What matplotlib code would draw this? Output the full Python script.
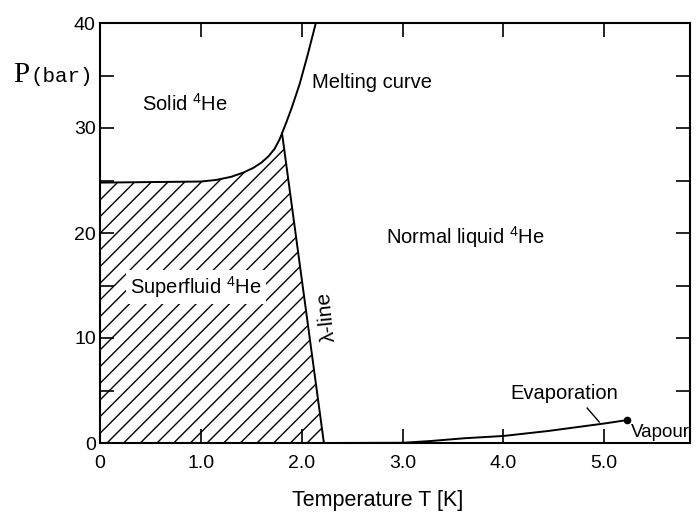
import matplotlib
matplotlib.use("Agg")
import matplotlib.pyplot as plt
from matplotlib.patches import Polygon
from matplotlib.ticker import MultipleLocator

# phase boundaries of 4He (T in K, P in bar)
melt_T = [0.0, 0.5, 1.0, 1.15, 1.3, 1.42, 1.52, 1.6, 1.67, 1.73, 1.78, 1.805,
          1.85, 1.9, 1.98, 2.06, 2.14]
melt_P = [24.8, 24.85, 24.9, 25.05, 25.35, 25.75, 26.2, 26.7, 27.3, 28.0, 28.9, 29.5,
          30.6, 31.9, 34.2, 37.0, 40.0]
lambda_T = [1.805, 2.22]
lambda_P = [29.5, 0.0]
evap_T = [2.22, 3.0, 3.28, 3.61, 4.0, 4.44, 5.01, 5.23]
evap_P = [0.0, 0.02, 0.19, 0.45, 0.67, 1.14, 1.87, 2.19]
xticks = [0, 1, 2, 3, 4, 5]
xticklabels = ["0", "1.0", "2.0", "3.0", "4.0", "5.0"]
yticks = [0, 10, 20, 30, 40]

plt.rcParams["font.family"] = ["Liberation Sans", "DejaVu Sans"]
plt.rcParams["hatch.linewidth"] = 1.0

fig = plt.figure(figsize=(6.96, 5.16), dpi=100)
ax = fig.add_axes([100 / 696, 73 / 516, 590 / 696, 420 / 516])
ax.set_xlim(0, 5.85)
ax.set_ylim(0, 40)

# hatched superfluid region: under melting curve up to lambda point, left of lambda line
n = melt_T.index(lambda_T[0]) + 1
verts = [(0, 0)] + list(zip(melt_T[:n], melt_P[:n])) + [(lambda_T[1], lambda_P[1])]
ax.add_patch(Polygon(verts, closed=True, fill=False, hatch="//", edgecolor="black", linewidth=0))

lw = 1.4
ax.plot(melt_T, melt_P, color="black", lw=lw)
ax.plot(lambda_T, lambda_P, color="black", lw=lw)
ax.plot(evap_T, evap_P, color="black", lw=lw, clip_on=False)
ax.plot(evap_T[-1], evap_P[-1], "o", color="black", ms=4.5, clip_on=False)
ax.plot([4.83, 4.95], [3.33, 2.0], color="black", lw=1.0)

fs = 14.5
ax.text(0.416, 31.6, r"Solid $^{\mathregular{4}}$He", fontsize=fs, va="baseline")
ax.text(2.10, 33.8, "Melting curve", fontsize=fs, va="baseline")
ax.text(2.84, 18.95, r"Normal liquid $^{\mathregular{4}}$He", fontsize=fs, va="baseline")
ax.text(0.30, 14.2, r"Superfluid $^{\mathregular{4}}$He", fontsize=fs, va="baseline",
        bbox=dict(facecolor="white", edgecolor="none", pad=3))
ax.text(2.25, 12.0, "λ-line", fontsize=15, rotation=96, ha="center", va="center")
ax.text(4.07, 4.2, "Evaporation", fontsize=fs, va="baseline")
ax.text(5.26, 0.57, "Vapour", fontsize=13.5, va="baseline", clip_on=False)

ax.set_xticks(xticks)
ax.set_xticklabels(xticklabels)
ax.set_yticks(yticks)
ax.yaxis.set_minor_locator(MultipleLocator(5))
ax.tick_params(which="both", direction="in", top=True, right=True, length=10, width=1.2,
               labelsize=14)
ax.tick_params(axis="x", pad=9)
ax.tick_params(axis="y", pad=3)
for s in ax.spines.values():
    s.set_linewidth(1.5)

ax.set_xlabel("Temperature T [K]", fontsize=15.5)
ax.xaxis.label.set_va("baseline")
ax.xaxis.set_label_coords((377.5 - 100) / 590, -63 / 420)

fig.text(13 / 696, 1 - 82 / 516, "P", fontsize=21, family="Liberation Serif", va="baseline")
fig.text(30 / 696, 1 - 82 / 516, "(bar)", fontsize=15, family="Liberation Mono", va="baseline")

fig.savefig("out.png", dpi=100)
